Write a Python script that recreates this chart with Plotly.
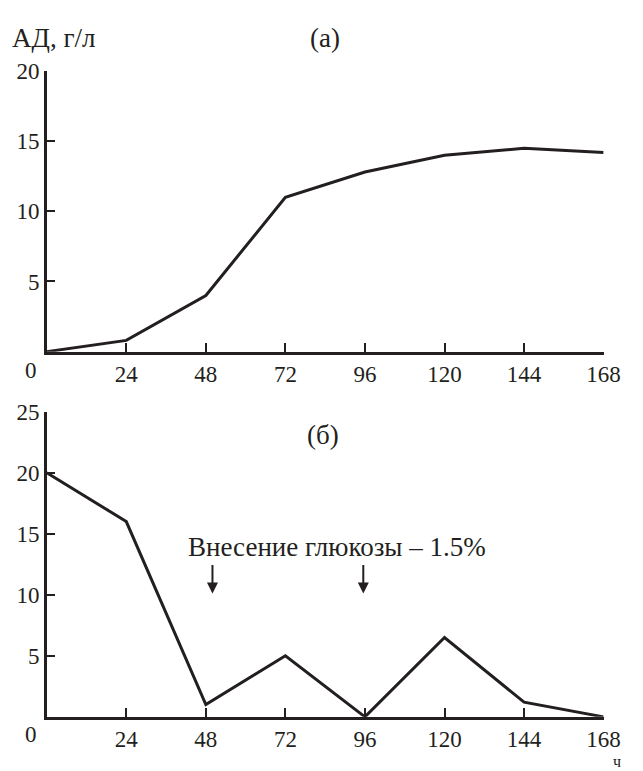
import plotly.graph_objects as go

hours = [0, 24, 48, 72, 96, 120, 144, 168]
ad_a = [0, 0.8, 4.0, 11.0, 12.8, 14.0, 14.5, 14.2]
ad_b = [20, 16, 1.0, 5.0, 0, 6.5, 1.2, 0]
x_ticks = [24, 48, 72, 96, 120, 144, 168]
y_ticks_a = [5, 10, 15, 20]
y_ticks_b = [5, 10, 15, 20, 25]
glucose_times = [50, 95.5]

W, H = 643, 771
FONT = "Liberation Serif"
FS_TICK = 23
FS_TEXT = 27
INK = "#231f20"

def px(x):
    return x / W

def py(y):
    return 1 - y / H

fig = go.Figure()
fig.add_trace(go.Scatter(x=hours, y=ad_a, mode="lines", xaxis="x", yaxis="y",
                         line=dict(color=INK, width=3), cliponaxis=False,
                         showlegend=False))
fig.add_trace(go.Scatter(x=hours, y=ad_b, mode="lines", xaxis="x2", yaxis="y2",
                         line=dict(color=INK, width=3), cliponaxis=False,
                         showlegend=False))

axis_common = dict(showgrid=False, zeroline=False, showline=True, linecolor=INK,
                   linewidth=2.5, ticks="inside", tickcolor=INK, tickwidth=1.5,
                   ticklen=9, tickfont=dict(family=FONT, size=FS_TICK, color=INK))

fig.update_layout(
    width=W, height=H,
    margin=dict(l=0, r=0, t=0, b=0),
    paper_bgcolor="white", plot_bgcolor="white",
    font=dict(family=FONT, size=FS_TEXT, color=INK),
    xaxis=dict(domain=[px(48), px(620)], range=[0, 168], anchor="y",
               tickvals=x_ticks, **axis_common),
    yaxis=dict(domain=[py(345), py(60)], range=[0, 20], anchor="x",
               tickvals=y_ticks_a, **axis_common),
    xaxis2=dict(domain=[px(48), px(620)], range=[0, 168], anchor="y2",
                tickvals=x_ticks, **axis_common),
    yaxis2=dict(domain=[py(716), py(406)], range=[0, 25], anchor="x2",
                tickvals=y_ticks_b, **axis_common),
)

ann = []
ann.append(dict(text="АД, г/л", xref="paper", yref="paper", x=px(10), y=py(26),
                xanchor="left", yanchor="middle", showarrow=False))
ann.append(dict(text="(а)", xref="paper", yref="paper", x=px(334), y=py(26),
                xanchor="center", yanchor="middle", showarrow=False))
ann.append(dict(text="(б)", xref="paper", yref="paper", x=px(332), y=py(430),
                xanchor="center", yanchor="middle", showarrow=False))
ann.append(dict(text="0", xref="paper", yref="paper", x=px(32), y=py(364),
                xanchor="center", yanchor="middle", showarrow=False,
                font=dict(size=FS_TICK)))
ann.append(dict(text="0", xref="paper", yref="paper", x=px(32), y=py(734),
                xanchor="center", yanchor="middle", showarrow=False,
                font=dict(size=FS_TICK)))
ann.append(dict(text="ч", xref="paper", yref="paper", x=px(634), y=0,
                xanchor="center", yanchor="bottom", showarrow=False,
                borderpad=0, font=dict(size=16)))
ann.append(dict(text="Внесение глюкозы – 1.5%", xref="paper", yref="paper",
                x=px(191), y=py(543), xanchor="left", yanchor="middle",
                showarrow=False))
for t in glucose_times:
    ann.append(dict(text="", x=t, y=10.1, xref="x2", yref="y2", ax=0, ay=-30,
                    showarrow=True, arrowhead=2, arrowsize=1.1, arrowwidth=2,
                    arrowcolor=INK))
fig.update_layout(annotations=ann)

fig.write_html("out.html", config={"displayModeBar": False},
               post_script="document.body.style.margin='0';document.body.style.overflow='hidden';")
